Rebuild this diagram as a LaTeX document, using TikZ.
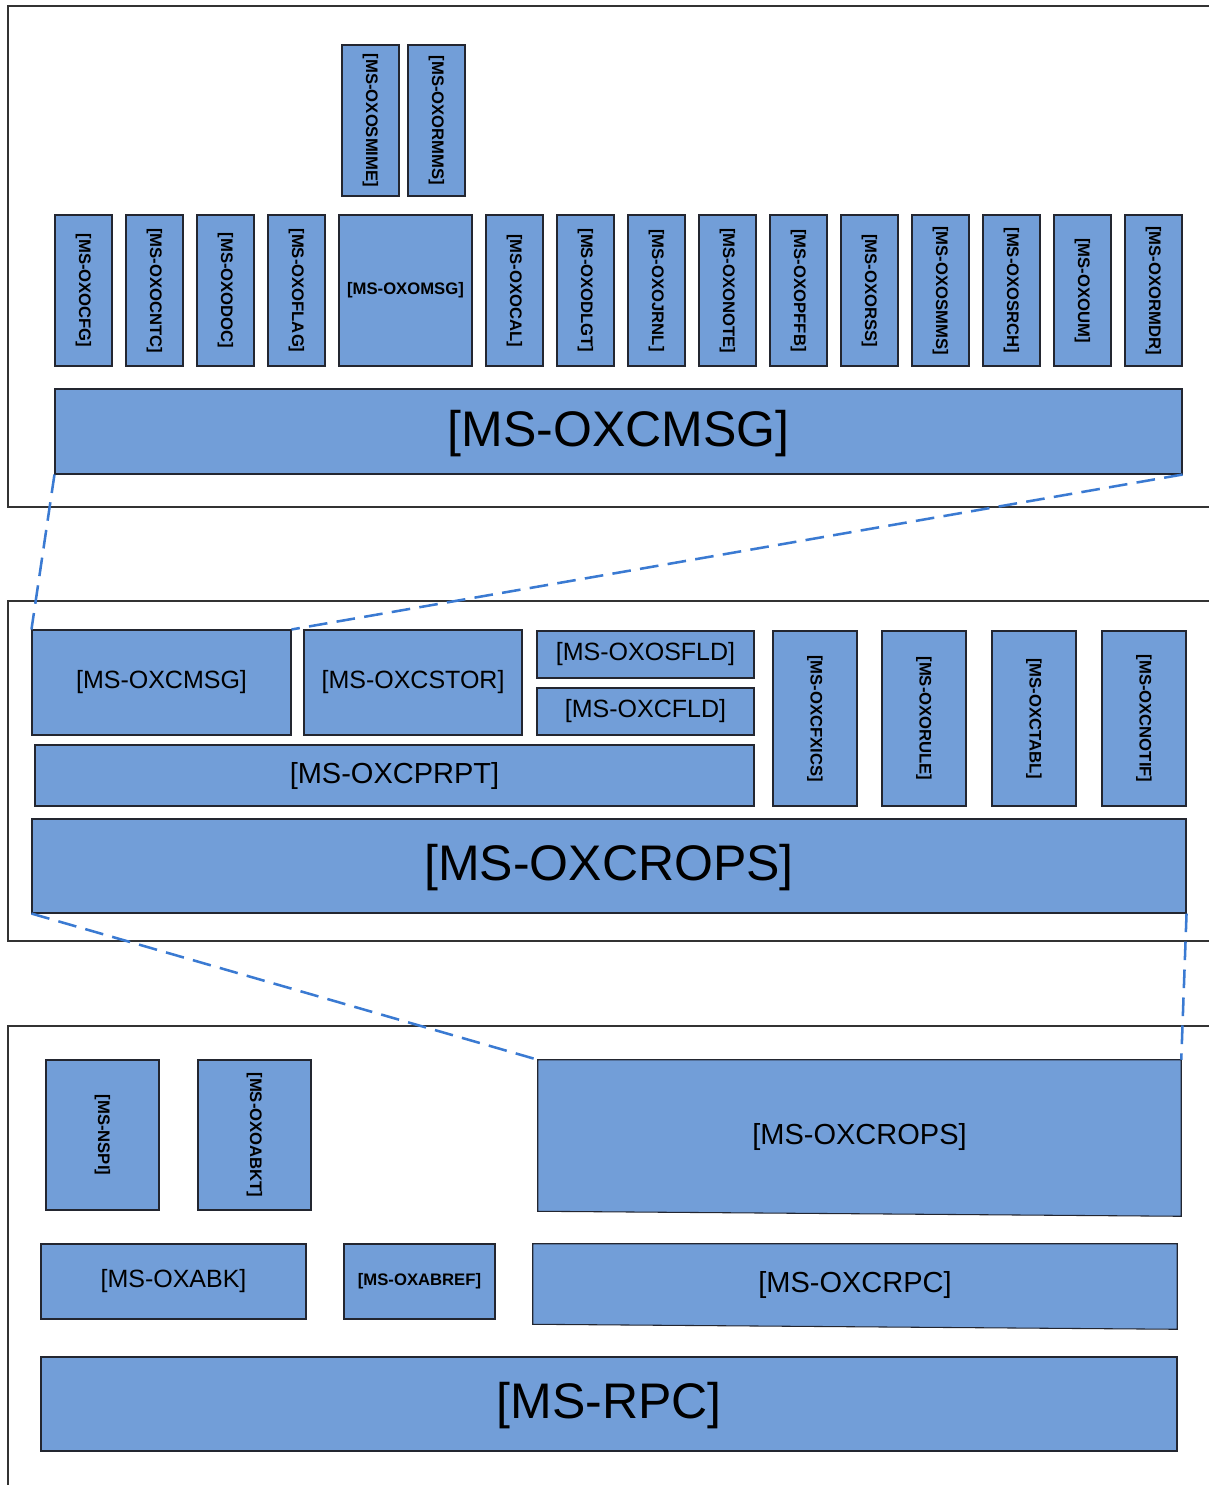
\documentclass[tikz,border=0pt]{standalone}
\usepackage{fontspec}
\setmainfont{Liberation Sans}
\usetikzlibrary{fit}
\definecolor{boxfill}{RGB}{114,158,216}
\definecolor{boxline}{RGB}{35,38,48}
\definecolor{frameline}{RGB}{51,51,51}
\definecolor{dashblue}{RGB}{58,122,210}
\tikzset{
  box/.style={draw=boxline, fill=boxfill, line width=0.8pt, inner sep=0pt},
  plainbox/.style={inner sep=0pt},
  frame/.style={draw=frameline, line width=1.5pt},
  conn/.style={draw=dashblue, line width=1.9pt, dash pattern=on 14pt off 7pt},
  bigtxt/.style={font=\fontsize{37.5pt}{44pt}\selectfont, yshift=-1.5pt},
  midtxt/.style={font=\fontsize{18.75pt}{22pt}\selectfont},
  lgtxt/.style={font=\fontsize{21.75pt}{26pt}\selectfont},
  smtxt/.style={font=\bfseries\fontsize{12.5pt}{15pt}\selectfont},
}
% \vbx{name}{x1}{y1}{x2}{y2}{text}: box with vertical bold text
\newcommand\vbx[6]{\node[box, fit={(#2,#3)(#4,#5)}, label={[smtxt,rotate=-90]center:#6}] (#1) {};}
% \hbx{name}{x1}{y1}{x2}{y2}{style}{text}
\newcommand\hbx[7]{\node[box, fit={(#2,#3)(#4,#5)}, label={[#6]center:#7}] (#1) {};}
\begin{document}
\begin{tikzpicture}[x=0.75pt,y=-0.75pt]
\useasboundingbox (0,0) rectangle (1209,1485);
% frames
\draw[frame] (1212,6) -- (8,6) -- (8,507) -- (1212,507);
\draw[frame] (1212,601) -- (8,601) -- (8,941) -- (1212,941);
\draw[frame] (1212,1026) -- (8,1026) -- (8,1488);

% ---- top group ----
\vbx{smime}{342}{45}{399}{196}{[MS-OXOSMIME]}
\vbx{rmms}{408}{45}{465}{196}{[MS-OXORMMS]}
\vbx{ocfg}{55}{215}{112}{366}{[MS-OXOCFG]}
\vbx{ocntc}{126}{215}{183}{366}{[MS-OXOCNTC]}
\vbx{odoc}{197}{215}{254}{366}{[MS-OXODOC]}
\vbx{oflag}{268}{215}{325}{366}{[MS-OXOFLAG]}
\hbx{omsg}{339}{215}{472}{366}{smtxt}{[MS-OXOMSG]}
\vbx{ocal}{486}{215}{543}{366}{[MS-OXOCAL]}
\vbx{odlgt}{557}{215}{614}{366}{[MS-OXODLGT]}
\vbx{ojrnl}{628}{215}{685}{366}{[MS-OXOJRNL]}
\vbx{onote}{699}{215}{756}{366}{[MS-OXONOTE]}
\vbx{opffb}{770}{215}{827}{366}{[MS-OXOPFFB]}
\vbx{orss}{841}{215}{898}{366}{[MS-OXORSS]}
\vbx{osmms}{912}{215}{969}{366}{[MS-OXOSMMS]}
\vbx{osrch}{983}{215}{1040}{366}{[MS-OXOSRCH]}
\vbx{oum}{1054}{215}{1111}{366}{[MS-OXOUM]}
\vbx{ormdr}{1125}{215}{1182}{366}{[MS-OXORMDR]}
\hbx{tcmsg}{55}{389}{1182}{474}{bigtxt}{[MS-OXCMSG]}

% ---- middle group ----
\hbx{mcmsg}{32}{630}{291}{735}{midtxt}{[MS-OXCMSG]}
\hbx{mcstor}{304}{630}{522}{735}{midtxt}{[MS-OXCSTOR]}
\hbx{osfld}{537}{631}{754}{678}{midtxt}{[MS-OXOSFLD]}
\hbx{cfld}{537}{688}{754}{735}{midtxt}{[MS-OXCFLD]}
\hbx{cprpt}{35}{745}{754}{806}{lgtxt}{[MS-OXCPRPT]}
\vbx{cfxics}{773}{631}{857}{806}{[MS-OXCFXICS]}
\vbx{orule}{882}{631}{966}{806}{[MS-OXORULE]}
\vbx{ctabl}{992}{631}{1076}{806}{[MS-OXCTABL]}
\vbx{cnotif}{1102}{631}{1186}{806}{[MS-OXCNOTIF]}
\hbx{mcrops}{32}{819}{1186}{913}{bigtxt}{[MS-OXCROPS]}

% ---- bottom group ----
\vbx{nspi}{46}{1060}{159}{1210}{[MS-NSPI]}
\vbx{oabkt}{198}{1060}{311}{1210}{[MS-OXOABKT]}
\node[plainbox, fit={(538,1060)(1181,1213)}] (bcrops) {};
\filldraw[draw=boxline, fill=boxfill, line width=0.8pt]
  (bcrops.north west) -- (bcrops.north east) -- ([yshift=-2.25pt]bcrops.south east)
  -- ([yshift=1.5pt]bcrops.south west) -- cycle;
\node[lgtxt] (bcropst) at (bcrops.center) {[MS-OXCROPS]};
\hbx{oxabk}{41}{1244}{306}{1319}{midtxt}{[MS-OXABK]}
\hbx{oxabref}{344}{1244}{495}{1319}{smtxt}{[MS-OXABREF]}
\node[plainbox, fit={(533,1244)(1177,1326)}] (crpc) {};
\filldraw[draw=boxline, fill=boxfill, line width=0.8pt]
  (crpc.north west) -- (crpc.north east) -- ([yshift=-2.25pt]crpc.south east)
  -- ([yshift=1.5pt]crpc.south west) -- cycle;
\node[lgtxt] (crpct) at (crpc.center) {[MS-OXCRPC]};
\hbx{rpc}{41}{1357}{1177}{1451}{bigtxt}{[MS-RPC]}

% ---- dashed connectors ----
\draw[conn] (tcmsg.south west) -- (mcmsg.north west);
\draw[conn] (tcmsg.south east) -- (mcmsg.north east);
\draw[conn] (mcrops.south west) -- (bcrops.north west);
\draw[conn] (mcrops.south east) -- (bcrops.north east);
\end{tikzpicture}
\end{document}
